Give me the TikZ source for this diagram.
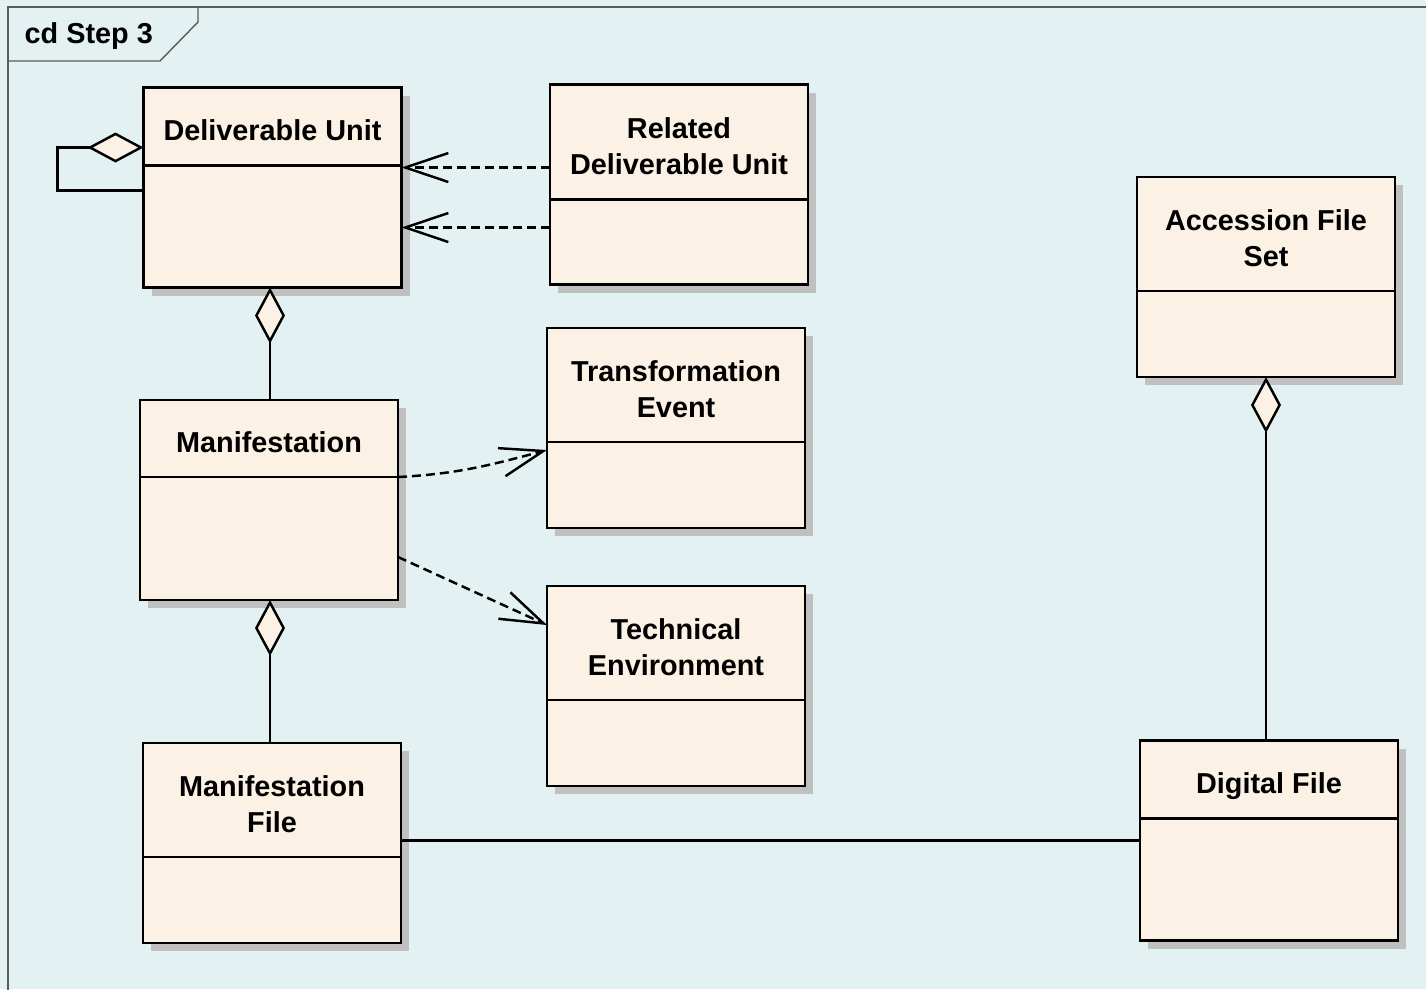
\documentclass[tikz,border=0pt]{standalone}
\usepackage{fontspec}
\setmainfont{Liberation Sans}
\usetikzlibrary{arrows.meta,calc,shadows}
\definecolor{framebg}{RGB}{228,241,242}
\definecolor{classfill}{RGB}{251,241,228}
\definecolor{shadowgray}{RGB}{192,192,192}
\definecolor{framegray}{RGB}{90,90,90}

\tikzset{
  classbox/.style={draw, line width=0.7pt, fill=classfill,
    minimum width=2.58cm, minimum height=2cm, inner sep=0pt, outer sep=0pt,
    drop shadow={shadow xshift=0.08cm, shadow yshift=-0.08cm, fill=shadowgray, opacity=1}},
  classtitle/.style={align=center, inner sep=0pt, text depth=0pt, yshift=-0.04cm,
    font=\fontsize{8.2}{10.5}\selectfont\bfseries},
  agg/.style={line width=0.7pt, -{Diamond[length=0.56cm, width=0.3cm, fill=classfill]}},
  dep/.style={line width=0.7pt, dash pattern=on 0.09cm off 0.05cm,
    -{Straight Barb[length=0.43cm, width=0.29cm]}},
  assoc/.style={line width=0.7pt},
}

\newcommand{\umlclass}[4]{%
  \node[classbox] (#1) at (#2) {};
  \coordinate (#1-d) at ($(#1.north west)+(0,-#3)$);
  \node[classtitle] (#1-t) at ($(#1.north)!0.5!(#1.north |- #1-d)$) {#4};
  \draw[line width=0.7pt] (#1-d) -- (#1-d -| #1.east);
}

\begin{document}
\begin{tikzpicture}
  \useasboundingbox (0,0) rectangle (14.26,-9.89);
  \fill[framebg] (0,0) rectangle (14.26,-9.89);
  \draw[framegray, line width=0.4pt] (0.08,-9.95) -- (0.08,-0.07) -- (14.3,-0.07);
  \draw[framegray, line width=0.4pt] (0.08,-0.61) -- (1.60,-0.61) -- (1.98,-0.22) -- (1.98,-0.07);
  \node[anchor=base west, inner sep=0pt, font=\fontsize{8.2}{10}\selectfont\bfseries] (frame) at (0.24,-0.43) {cd Step 3};

  \umlclass{du}{2.725,-1.875}{0.78}{Deliverable Unit}
  \umlclass{rdu}{6.79,-1.845}{1.15}{Related\\Deliverable Unit}
  \umlclass{te}{6.76,-4.28}{1.14}{Transformation\\Event}
  \umlclass{tenv}{6.76,-6.86}{1.14}{Technical\\Environment}
  \umlclass{man}{2.69,-5.0}{0.77}{Manifestation}
  \umlclass{mf}{2.72,-8.43}{1.14}{Manifestation\\File}
  \umlclass{afs}{12.66,-2.77}{1.14}{Accession File\\Set}
  \umlclass{df}{12.69,-8.405}{0.78}{Digital File}

  \coordinate (du-a) at ([yshift=-0.6cm]du.north west);
  \coordinate (du-b) at ([yshift=-1.03cm]du.north west);
  \draw[agg] (du-b) -- ++(-0.86,0) |- (du-a);

  \coordinate (rdu-a) at ([yshift=-0.83cm]rdu.north west);
  \coordinate (rdu-b) at ([yshift=-1.43cm]rdu.north west);
  \draw[dep] (rdu-a) -- (rdu-a -| du.east);
  \draw[dep] (rdu-b) -- (rdu-b -| du.east);

  \draw[agg] ([xshift=0.01cm]man.north) -- ([xshift=0.01cm]man.north |- du.south);
  \draw[agg] ([xshift=0.01cm]man.south |- mf.north) -- ([xshift=0.01cm]man.south);

  \coordinate (te-a) at ([yshift=-1.22cm]te.north west);
  \coordinate (tenv-a) at ([yshift=-0.39cm]tenv.north west);
  \coordinate (man-a) at ([yshift=-0.57cm]man.east);
  \draw[dep] (man-d -| man.east) to[out=3, in=195] (te-a);
  \draw[dep] (man-a) -- (tenv-a);

  \draw[assoc] (df.west -| mf.east) -- (df.west);
  \draw[agg] (afs.south |- df.north) -- (afs.south);
\end{tikzpicture}
\end{document}
